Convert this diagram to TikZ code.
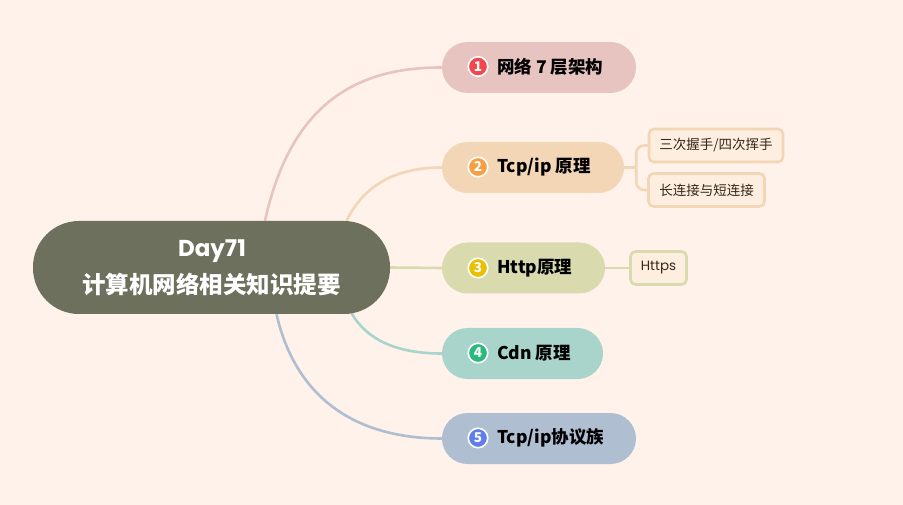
\documentclass[tikz,border=0pt]{standalone}
\usepackage{fontspec}
\setmainfont{Noto Sans CJK SC}
\newfontfamily\pop{Poppins}
\usetikzlibrary{calc,backgrounds}
\definecolor{bg}{HTML}{FEF2EA}
\definecolor{rootc}{HTML}{6C705C}
\definecolor{c1}{HTML}{E8C4C1}
\definecolor{c2}{HTML}{F3D6B6}
\definecolor{c3}{HTML}{D9DBAF}
\definecolor{c4}{HTML}{A9D4CB}
\definecolor{c5}{HTML}{AFBED1}
\definecolor{n1}{HTML}{F4474C}
\definecolor{n2}{HTML}{F6A043}
\definecolor{n3}{HTML}{E9C000}
\definecolor{n4}{HTML}{2BBA7B}
\definecolor{n5}{HTML}{5E7FEB}
\definecolor{subfill}{HTML}{FDEEDF}
\definecolor{txt}{HTML}{33261A}
\tikzset{
  branchbox/.style={inner sep=0pt, minimum height=51pt, rounded corners=25.5pt},
  numc/.style={circle, draw=white, line width=1.6pt, inner sep=0pt, minimum size=19.5pt, text=white, font=\fontsize{13.5}{13.5}\selectfont\bfseries},
  btext/.style={anchor=west, inner sep=0pt, text=black, font=\fontsize{17.5}{20}\selectfont\bfseries},
  conn/.style={line width=2.6pt},
  subbox/.style={draw=c2, fill=subfill, line width=2.6pt, rounded corners=5pt, inner sep=0pt, minimum height=33pt, font=\fontsize{13.5}{16}\selectfont, text=txt}
}
\begin{document}
\begin{tikzpicture}[x=1pt,y=-1pt]
\useasboundingbox (0,0) rectangle (903,505);
% root
\node[fill=rootc, rounded corners=46pt, minimum width=357pt, minimum height=93pt, inner sep=0pt] (root) at (211.5,267.5) {};
\node[text=white, inner sep=0pt, font=\pop\bfseries\fontsize{23}{26}\selectfont] (rt1) at (212,251) {Day71};
\node[text=white, inner sep=0pt, font=\bfseries\fontsize{23.5}{26}\selectfont] (rt2) at (211.5,284) {计算机网络相关知识提要};
% branches
\node[branchbox, fill=c1, minimum width=194pt] (b1) at (539,67.5) {};
\node[branchbox, fill=c2, minimum width=182pt] (b2) at (533,167.5) {};
\node[branchbox, fill=c3, minimum width=163pt] (b3) at (523.5,268) {};
\node[branchbox, fill=c4, minimum width=161pt] (b4) at (522.5,353.5) {};
\node[branchbox, fill=c5, minimum width=194pt] (b5) at (539,438.5) {};
\foreach \i/\y in {1/66.5,2/167,3/268,4/353,5/438}{
  \node[numc, fill=n\i] (k\i) at (478,\y) {\i};
}
\node[btext] (t1) at (497,66.5) {网络 7 层架构};
\node[btext] (t2) at (497,167) {Tcp/ip 原理};
\node[btext] (t3) at (497,268) {Http原理};
\node[btext] (t4) at (497,353) {Cdn 原理};
\node[btext] (t5) at (497,438) {Tcp/ip协议族};
% sub nodes
\node[subbox, minimum width=134pt] (s1) at (716,145.5) {三次握手/四次挥手};
\node[subbox, minimum width=116pt] (s2) at (706.5,190) {长连接与短连接};
\node[subbox, draw=c3, fill=subfill, minimum width=56pt, font=\pop\fontsize{13.5}{16}\selectfont] (s3) at (658.5,268) {Https};
\begin{pgfonlayer}{background}
\fill[bg] (0,0) rectangle (903,505);
\draw[conn, c1] ($(root.north)+(53.5,0)$) .. controls (289,112) and (348,67) .. (b1.west);
\draw[conn, c2] ($(root.north)+(135,0)$) .. controls (364,185) and (396,167.5) .. (b2.west);
\draw[conn, c3] (root.east) -- (b3.west);
\draw[conn, c4] ($(root.south)+(140,-1)$) .. controls (367,340) and (397,353.5) .. (b4.west);
\draw[conn, c5] ($(root.south)+(65,0)$) .. controls (295,395) and (352,438.5) .. (b5.west);
\draw[conn, c2] (b2.east) -- ++(12,0) coordinate (fork);
\draw[conn, c2, rounded corners=8pt] (fork) |- (s1.west);
\draw[conn, c2, rounded corners=8pt] (fork) |- (s2.west);
\draw[conn, c3] (b3.east) -- (s3.west);
\end{pgfonlayer}
\end{tikzpicture}
\end{document}
